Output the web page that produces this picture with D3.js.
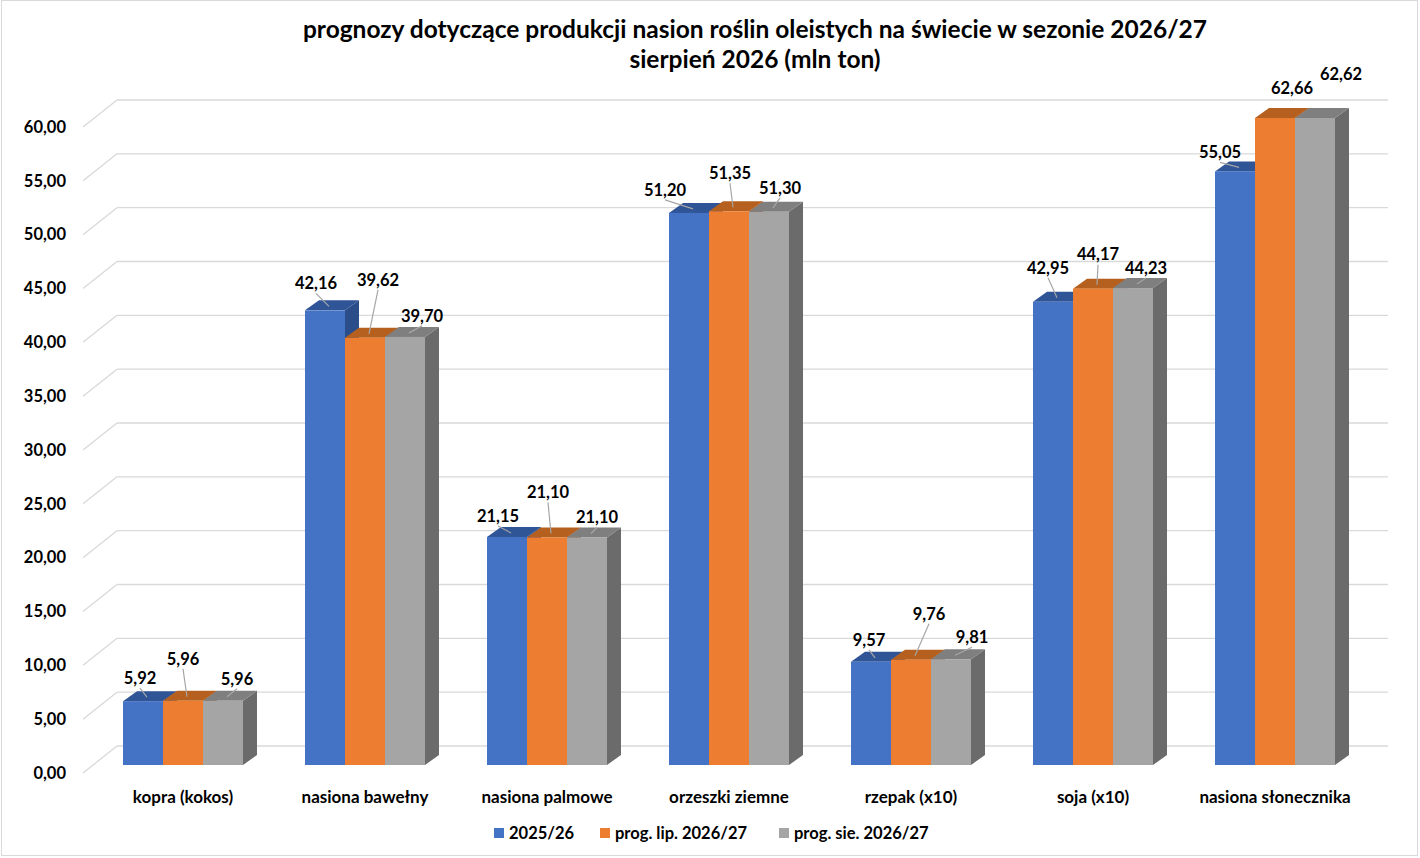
<!DOCTYPE html>
<html>
<head>
<meta charset="utf-8">
<script src="https://cdn.jsdelivr.net/npm/d3@7"></script>
<style>
  body { margin: 0; background: #fff; }
  text { font-family: Lato, "Noto Sans", sans-serif; font-weight: bold; fill: #000; }
</style>
</head>
<body>
<svg id="chart" width="1420" height="858"></svg>
<script>
// data
var categories = ["kopra (kokos)", "nasiona bawełny", "nasiona palmowe", "orzeszki ziemne",
                  "rzepak (x10)", "soja (x10)", "nasiona słonecznika"];
var seriesNames = ["2025/26", "prog. lip. 2026/27", "prog. sie. 2026/27"];
var s2025 = [5.92, 42.16, 21.15, 51.20, 9.57, 42.95, 55.05];
var sLip = [5.96, 39.62, 21.10, 51.35, 9.76, 44.17, 62.66];
var sSie = [5.96, 39.70, 21.10, 51.30, 9.81, 44.23, 62.62];
var yTicks = [0, 5, 10, 15, 20, 25, 30, 35, 40, 45, 50, 55, 60];

// label nudges (px from the front top centre of each bar), per series
var labelNudge = [
    [[-3, -23], [-9, -27], [-9, -21], [-24, -23], [-2, -22], [-5, -34], [-15, -19]],
    [[0, -42], [13, -58], [1, -45], [1, -38], [18, -46], [5, -34], [17, -30]],
    [[14, -22], [17, -21], [10, -20], [11, -24], [21, -22], [13, -20], [26, -44]]
];

var colors = ["#4472c4", "#ed7d31", "#a5a5a5"];
var topColors = ["#2f5597", "#b5601f", "#7f7f7f"];
var sideColors = ["#2b4d8a", "#a55520", "#6b6b6b"];

var allSeries = [s2025, sLip, sSie];
var yMax = 60;

var svg = d3.select("#chart");

// chart border
svg.append("rect")
    .attr("x", 1.5).attr("y", 0.5)
    .attr("width", 1416).attr("height", 855)
    .attr("fill", "none").attr("stroke", "#d9d9d9");

// title
var title = svg.append("text")
    .attr("text-anchor", "middle")
    .style("font-size", "24.5px");
title.append("tspan").attr("x", 755).attr("y", 38)
    .text("prognozy dotyczące produkcji nasion roślin oleistych na świecie w sezonie 2026/27");
title.append("tspan").attr("x", 755).attr("y", 68)
    .text("sierpień 2026 (mln ton)");

// 3D geometry
var depthX = 14, depthY = -10;      // bar depth
var wallX0 = 83, wallX1 = 117, wallX2 = 1388;

var yBack = d3.scaleLinear().domain([0, yMax]).range([746, 100]);
var yFront = d3.scaleLinear().domain([0, yMax]).range([765, 118]).clamp(true);

var x = d3.scaleBand()
    .domain(categories)
    .range([92, 1366])
    .paddingInner(0.3407)
    .paddingOuter(0.1703);

var xs = d3.scaleBand()
    .domain(seriesNames)
    .range([0, x.bandwidth()]);

var fmt = function(v) { return d3.format(".2f")(v).replace(".", ","); };

// gridlines (back wall + side wall)
var grid = svg.append("g");
yTicks.forEach(function(t) {
    grid.append("line")
        .attr("x1", wallX1).attr("x2", wallX2)
        .attr("y1", yBack(t)).attr("y2", yBack(t))
        .attr("stroke", "#d9d9d9").attr("stroke-width", 1.3);
    grid.append("line")
        .attr("x1", wallX0).attr("x2", wallX1)
        .attr("y1", yBack(t) + 27).attr("y2", yBack(t))
        .attr("stroke", "#d9d9d9").attr("stroke-width", 1.3);
    grid.append("text")
        .attr("x", 66).attr("y", yBack(t) + 27)
        .attr("dy", "0.35em")
        .attr("text-anchor", "end")
        .style("font-size", "16.5px")
        .text(fmt(t));
});

// bars, drawn left to right so that each front hides the previous side
var bars = svg.append("g");
categories.forEach(function(c, i) {
    seriesNames.forEach(function(s, k) {
        var v = allSeries[k][i];
        var x0 = x(c) + xs(s), w = xs.bandwidth();
        var yt = yFront(v), yb = yFront(0);
        var g = bars.append("g");
        // side
        g.append("path")
            .attr("d", "M" + (x0 + w) + "," + yt +
                " L" + (x0 + w + depthX) + "," + (yt + depthY) +
                " L" + (x0 + w + depthX) + "," + (yb + depthY) +
                " L" + (x0 + w) + "," + yb + "Z")
            .attr("fill", sideColors[k]);
        // top
        g.append("path")
            .attr("d", "M" + x0 + "," + yt +
                " L" + (x0 + depthX) + "," + (yt + depthY) +
                " L" + (x0 + w + depthX) + "," + (yt + depthY) +
                " L" + (x0 + w) + "," + yt + "Z")
            .attr("fill", topColors[k]);
        // front
        g.append("rect")
            .attr("x", x0).attr("y", yt)
            .attr("width", w).attr("height", yb - yt)
            .attr("fill", colors[k]);
    });
});

// data labels with leader lines
var labels = svg.append("g");
categories.forEach(function(c, i) {
    seriesNames.forEach(function(s, k) {
        var v = allSeries[k][i];
        var cx = x(c) + xs(s) + xs.bandwidth() / 2;
        var yt = yFront(v);
        var n = labelNudge[k][i];
        var lx = cx + n[0], ly = yt + n[1];
        var endX = cx + 4, endY = yt - 4;
        var startY = ly + 10;
        if (v <= yMax && endY - startY > 3) {
            labels.append("line")
                .attr("x1", lx).attr("y1", startY)
                .attr("x2", endX).attr("y2", endY)
                .attr("stroke", "#a6a6a6").attr("stroke-width", 1.2);
        }
        labels.append("text")
            .attr("x", lx).attr("y", ly)
            .attr("dy", "0.35em")
            .attr("text-anchor", "middle")
            .style("font-size", "16.5px")
            .text(fmt(v));
    });
});

// category labels
svg.append("g").selectAll("text")
    .data(categories).enter()
    .append("text")
    .attr("x", function(d) { return x(d) + x.bandwidth() / 2; })
    .attr("y", 797)
    .attr("dy", "0.35em")
    .attr("text-anchor", "middle")
    .style("font-size", "17px")
    .text(function(d) { return d; });

// legend
var legendX = [494, 600, 779];
var legend = svg.append("g");
seriesNames.forEach(function(s, k) {
    legend.append("rect")
        .attr("x", legendX[k]).attr("y", 828)
        .attr("width", 10).attr("height", 10)
        .attr("fill", colors[k]);
    legend.append("text")
        .attr("x", legendX[k] + 15).attr("y", 833)
        .attr("dy", "0.35em")
        .style("font-size", "16.5px")
        .text(s);
});
</script>
</body>
</html>
